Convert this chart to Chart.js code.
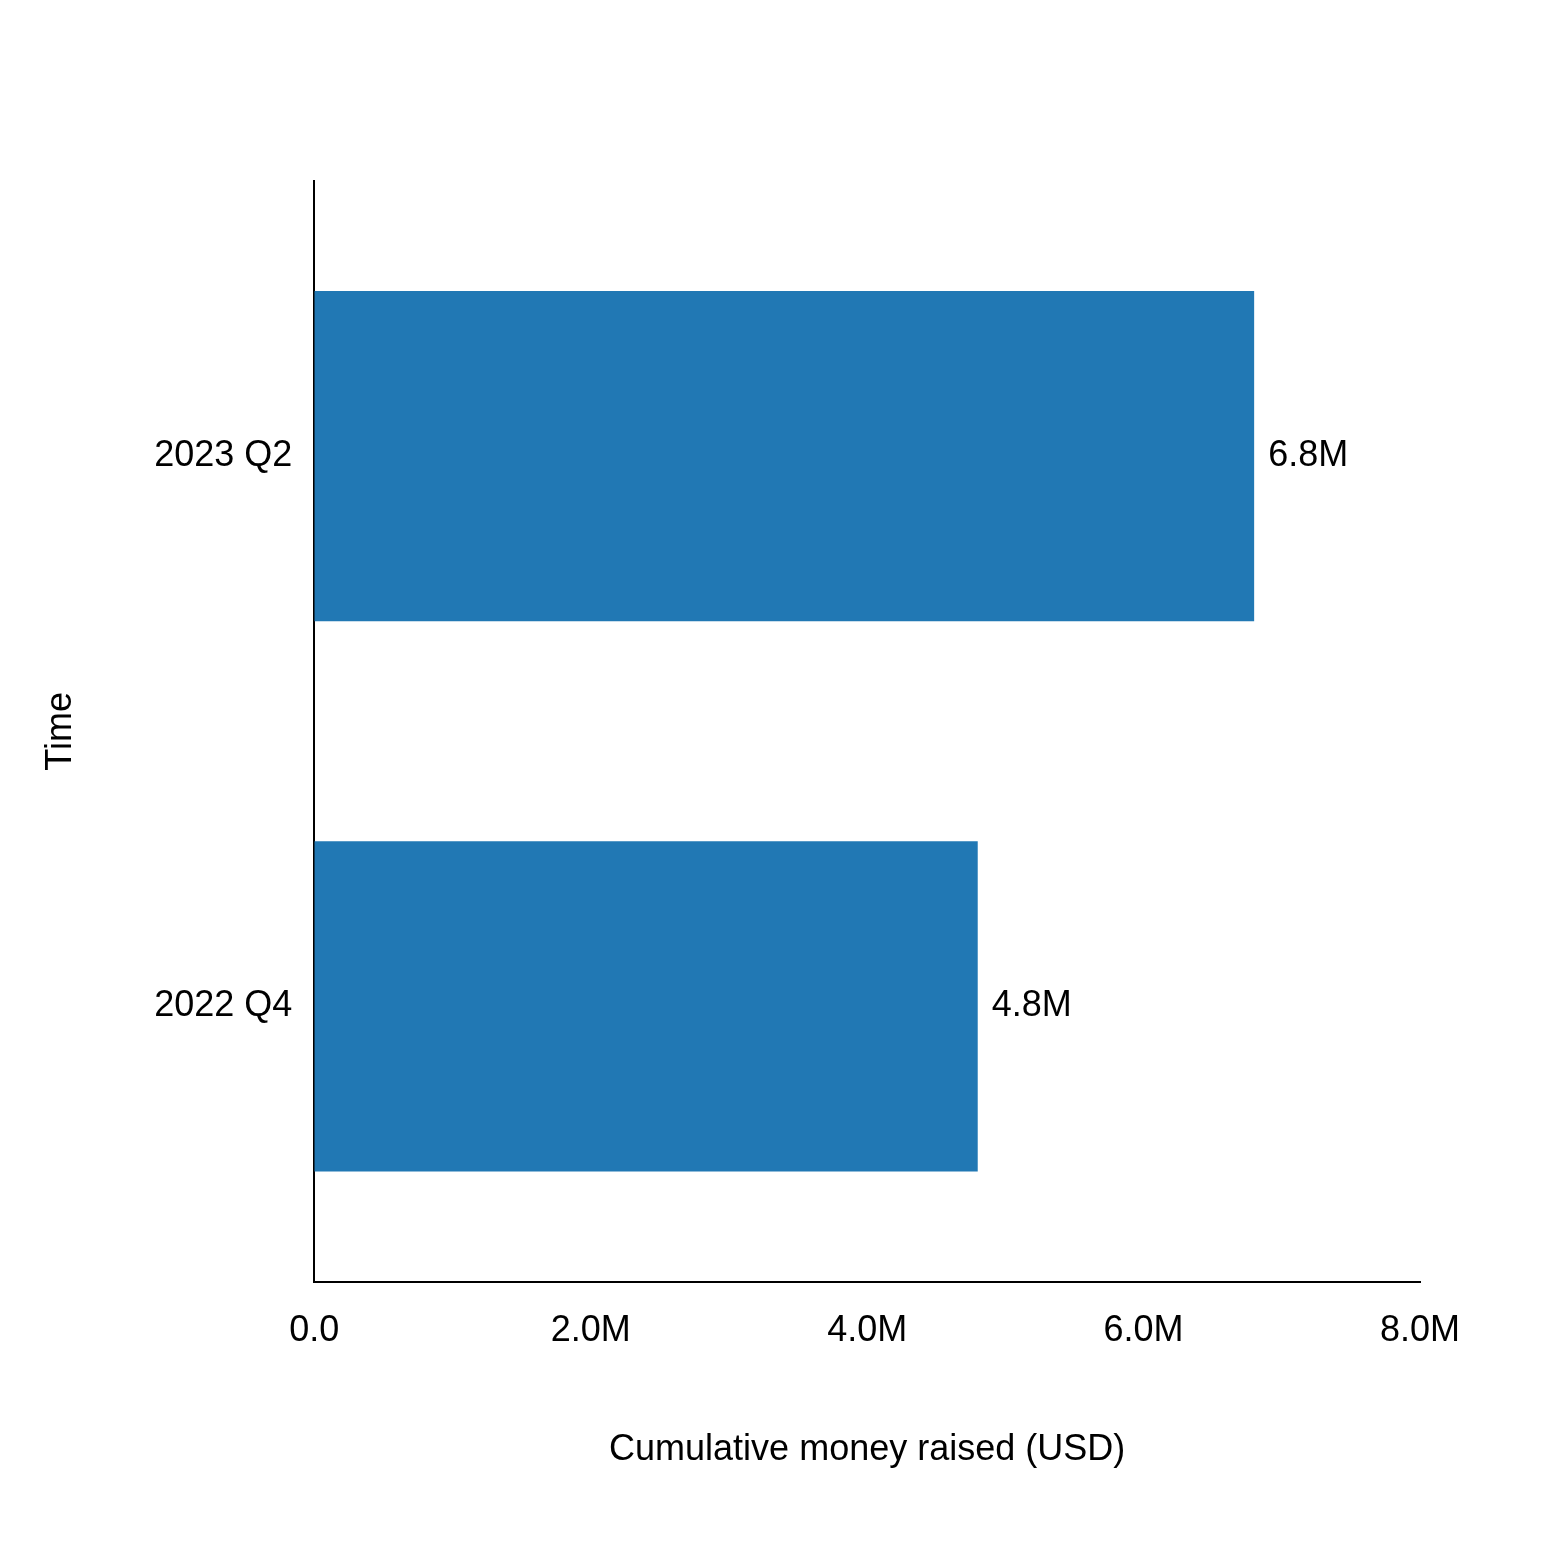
<!DOCTYPE html>
<html>
<head>
<meta charset="utf-8">
<script src="https://cdn.jsdelivr.net/npm/chart.js@4"></script>
<style>body{margin:0;background:#fff}</style>
</head>
<body>
<canvas id="myChart" width="1560" height="1564"></canvas>
<script>
// Chart data
const categories = ['2023 Q2', '2022 Q4'];
const moneyRaised = [6.8, 4.8]; // millions USD
const valueLabels = ['6.8M', '4.8M'];

const fmt = (v) => (v === 0 ? '0.0' : v.toFixed(1) + 'M');

// Draw value labels at bar ends
const barLabels = {
  id: 'barLabels',
  afterDatasetsDraw(chart) {
    const ctx = chart.ctx;
    const meta = chart.getDatasetMeta(0);
    ctx.save();
    ctx.font = '36px "Liberation Sans", Arial, sans-serif';
    ctx.fillStyle = '#000';
    ctx.textBaseline = 'middle';
    meta.data.forEach((bar, i) => {
      ctx.fillText(valueLabels[i], bar.x + 14, bar.y);
    });
    ctx.restore();
  },
};

Chart.defaults.font.family = '"Liberation Sans", Arial, sans-serif';
Chart.defaults.color = '#000';

const ctx = document.getElementById('myChart');
new Chart(ctx, {
  type: 'bar',
  data: {
    labels: categories,
    datasets: [{
      data: moneyRaised,
      backgroundColor: '#2178b4',
      barPercentage: 0.6,
      categoryPercentage: 1,
    }],
  },
  options: {
    indexAxis: 'y',
    responsive: false,
    animation: false,
    devicePixelRatio: 1,
    layout: { padding: { top: 181, right: 140, left: 35, bottom: 88 } },
    plugins: { legend: { display: false }, tooltip: { enabled: false } },
    scales: {
      x: {
        min: 0,
        max: 8,
        ticks: { stepSize: 2, callback: (v) => fmt(v), font: { size: 36 }, padding: 18 },
        grid: { display: false, drawTicks: true, tickLength: 10, tickColor: '#000', tickWidth: 2 },
        border: { color: '#000', width: 2 },
        title: { display: true, text: 'Cumulative money raised (USD)', font: { size: 36 }, padding: { top: 58 } },
      },
      y: {
        ticks: { font: { size: 36 }, padding: 22 },
        grid: { display: false, drawTicks: false },
        border: { color: '#000', width: 2 },
        title: { display: true, text: 'Time', font: { size: 36 }, padding: { bottom: 50 } },
      },
    },
  },
  plugins: [barLabels],
});
</script>
</body>
</html>
